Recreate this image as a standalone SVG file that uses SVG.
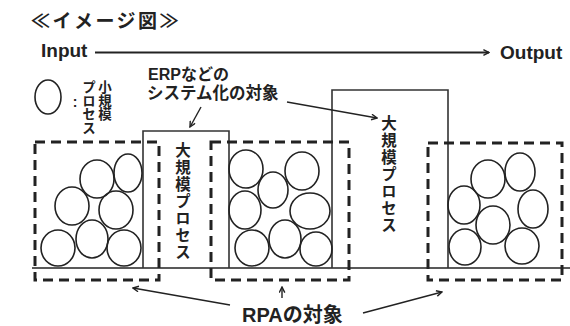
<svg xmlns="http://www.w3.org/2000/svg" width="570" height="326" viewBox="0 0 570 326">
<style>
.t{font-family:"Liberation Sans","Noto Sans CJK JP",sans-serif;font-weight:bold;fill:#222}
.j{font-family:"Noto Sans CJK JP",sans-serif;font-weight:bold;fill:#222}
.v{font-family:"Noto Sans CJK JP",sans-serif;font-weight:bold;fill:#222;writing-mode:vertical-rl}
.c{fill:none;stroke:#222;stroke-width:1.6}
.big{fill:none;stroke:#333;stroke-width:1.6}
.dash{fill:none;stroke:#222;stroke-width:3;stroke-dasharray:10 6}
.ln{fill:none;stroke:#222;stroke-width:1.6}
.arr{fill:none;stroke:#222;stroke-width:1.4;marker-end:url(#ah)}
</style>
<defs>
<marker id="ah" viewBox="0 0 10 10" refX="9" refY="5" markerWidth="7" markerHeight="7" orient="auto" markerUnits="userSpaceOnUse">
<path d="M1,1 L9,5 L1,9" fill="none" stroke="#222" stroke-width="2"/>
</marker>
</defs>
<rect width="570" height="326" fill="#fff"/>
<text class="j" x="31" y="28" font-size="19" letter-spacing="2.5">≪イメージ図≫</text>
<g id="input"><text class="t" x="41" y="57" font-size="19">Input</text></g>
<g id="output"><text class="t" x="500" y="59" font-size="19">Output</text></g>
<g id="legend">
<ellipse class="c" cx="48" cy="97" rx="13" ry="17"/>
<text class="t" x="75" y="107" font-size="14" text-anchor="middle">:</text>
<text class="v" x="89" y="80" font-size="13.5" letter-spacing="0.3">プロセス</text>
<text class="v" x="105" y="80" font-size="13.5" letter-spacing="0.3">小規模</text>
</g>
<g id="erp-label">
<text class="t" font-size="16"><tspan x="148" y="80">ERPなどの</tspan><tspan x="147" y="99" font-size="16.5">システム化の対象</tspan></text>
</g>
<g id="baseline"><line class="ln" x1="32" y1="268" x2="570" y2="268"/></g>
<g id="big1">
<path class="big" d="M143,268 V131 H229 V268"/>
<text class="v" x="183" y="142" font-size="15.5" letter-spacing="1.5">大規模プロセス</text>
</g>
<g id="big2">
<path class="big" d="M332,268 V90 H448 V268"/>
<text class="v" x="389" y="115" font-size="15.5" letter-spacing="1.5">大規模プロセス</text>
</g>
<g id="rpa1">
<rect class="dash" x="35" y="142" width="124" height="138"/>
<ellipse class="c" cx="58" cy="248" rx="17" ry="18"/>
<ellipse class="c" cx="92" cy="239" rx="16" ry="19"/>
<ellipse class="c" cx="124" cy="248" rx="17" ry="18"/>
<ellipse class="c" cx="72" cy="206" rx="17" ry="19"/>
<ellipse class="c" cx="116" cy="210" rx="17" ry="19"/>
<ellipse class="c" cx="97" cy="179" rx="17" ry="19"/>
<ellipse class="c" cx="128" cy="173" rx="14" ry="19"/>
</g>
<g id="rpa2">
<rect class="dash" x="211" y="142" width="138" height="138"/>
<ellipse class="c" cx="246" cy="169" rx="17" ry="19"/>
<ellipse class="c" cx="273" cy="190" rx="15" ry="18"/>
<ellipse class="c" cx="302" cy="171" rx="17" ry="19"/>
<ellipse class="c" cx="245" cy="210" rx="16" ry="19"/>
<ellipse class="c" cx="310" cy="211" rx="20" ry="18"/>
<ellipse class="c" cx="252" cy="248" rx="17" ry="18"/>
<ellipse class="c" cx="285" cy="239" rx="16" ry="19"/>
<ellipse class="c" cx="316" cy="249" rx="16" ry="17"/>
</g>
<g id="rpa3">
<rect class="dash" x="428" y="143" width="134" height="137"/>
<ellipse class="c" cx="488" cy="179" rx="17" ry="19"/>
<ellipse class="c" cx="520" cy="172" rx="15" ry="19"/>
<ellipse class="c" cx="464" cy="205" rx="16" ry="19"/>
<ellipse class="c" cx="493" cy="225" rx="17" ry="19"/>
<ellipse class="c" cx="533" cy="209" rx="15" ry="19"/>
<ellipse class="c" cx="465" cy="247" rx="16" ry="18"/>
<ellipse class="c" cx="522" cy="246" rx="17" ry="18"/>
</g>
<g id="rpa-label"><text class="t" x="242" y="322" font-size="20">RPAの対象</text></g>
<g id="connectors">
<line class="arr" x1="95" y1="52.5" x2="489" y2="52.5" style="stroke-width:1.8"/>
<line class="arr" x1="201" y1="107" x2="190" y2="127"/>
<line class="arr" x1="287" y1="102" x2="377" y2="118"/>
<line class="arr" x1="230" y1="305" x2="133" y2="288"/>
<line class="arr" x1="363" y1="313" x2="442" y2="292"/>
<line class="arr" x1="282" y1="298" x2="282" y2="287"/>
</g>
</svg>
